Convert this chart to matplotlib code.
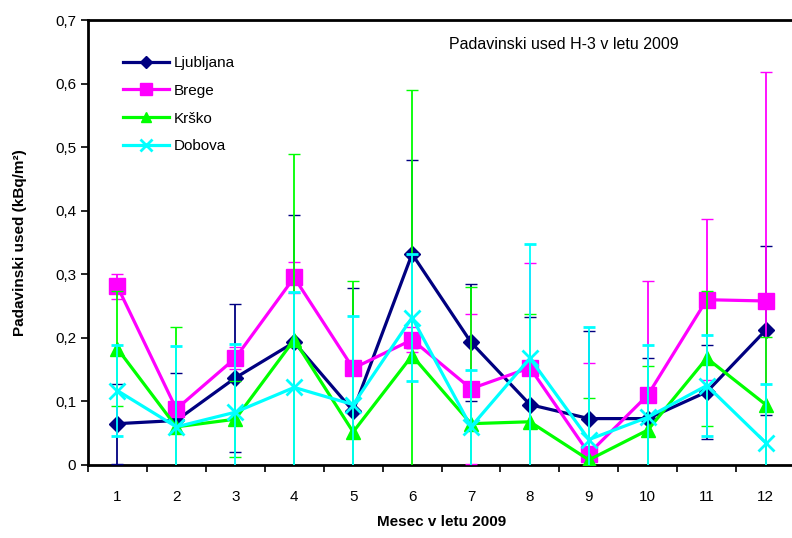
import matplotlib
matplotlib.use("Agg")
import matplotlib.pyplot as plt
from matplotlib.ticker import FuncFormatter
from matplotlib.lines import Line2D

plt.rcParams["font.family"] = ["Liberation Sans", "DejaVu Sans"]

# podatki (odčitano s slike)
months = [1, 2, 3, 4, 5, 6, 7, 8, 9, 10, 11, 12]
series_names = ["Ljubljana", "Brege", "Krško", "Dobova"]

ljubljana = [0.065, 0.070, 0.137, 0.193, 0.085, 0.332, 0.193, 0.095, 0.073, 0.073, 0.115, 0.212]
ljubljana_err = [0.063, 0.075, 0.116, 0.200, 0.194, 0.148, 0.092, 0.138, 0.137, 0.095, 0.074, 0.133]

brege = [0.281, 0.088, 0.168, 0.295, 0.152, 0.197, 0.120, 0.153, 0.018, 0.110, 0.260, 0.258]
brege_err = [0.020, 0.010, 0.017, 0.024, 0.010, 0.020, 0.118, 0.165, 0.142, 0.179, 0.127, 0.360]

krsko = [0.183, 0.060, 0.072, 0.197, 0.052, 0.172, 0.065, 0.068, 0.008, 0.055, 0.168, 0.095]
krsko_err = [0.090, 0.157, 0.060, 0.292, 0.237, 0.418, 0.215, 0.169, 0.098, 0.100, 0.106, 0.106]

dobova = [0.117, 0.060, 0.083, 0.122, 0.095, 0.232, 0.060, 0.168, 0.040, 0.075, 0.125, 0.035]
dobova_err = [0.072, 0.127, 0.108, 0.150, 0.140, 0.100, 0.090, 0.180, 0.177, 0.114, 0.080, 0.092]

values = [ljubljana, brege, krsko, dobova]
errors = [ljubljana_err, brege_err, krsko_err, dobova_err]
colors = ["#000080", "#FF00FF", "#00FF00", "#00FFFF"]
markers = ["D", "s", "^", "x"]
msizes = [8, 11, 10, 11]

fig = plt.figure(figsize=(7.92, 5.38), dpi=100)
ax = fig.add_axes([0.111, 0.1357, 0.893, 0.8271])

handles = []
for i, name in enumerate(series_names):
    mew = 2 if markers[i] == "x" else 1
    ax.errorbar(months, values[i], yerr=errors[i], color=colors[i],
                marker=markers[i], markersize=msizes[i], markeredgewidth=mew,
                linewidth=2.3, elinewidth=1.3, capsize=4.5, capthick=1.3,
                zorder=3 + i)
    # legenda brez napak
    handles.append(Line2D([], [], color=colors[i], marker=markers[i],
                          markersize=msizes[i] * 0.75, markeredgewidth=mew,
                          linewidth=2.3, label=name))

ax.set_xlim(0.5, 12.5)
ax.set_ylim(0, 0.7)
ax.set_xticks(months)
ax.set_xticks([m + 0.5 for m in range(0, 13)], minor=True)
ax.tick_params(axis="x", which="major", length=0, pad=18, labelsize=11)
ax.tick_params(axis="x", which="minor", length=5, width=1.2)
ax.set_yticks([0, 0.1, 0.2, 0.3, 0.4, 0.5, 0.6, 0.7])
ax.yaxis.set_major_formatter(FuncFormatter(lambda v, p: "0" if v == 0 else f"{v:.1f}".replace(".", ",")))
ax.tick_params(axis="y", length=5, width=1.2, labelsize=11)

for s in ax.spines.values():
    s.set_linewidth(2)

ax.set_xlabel("Mesec v letu 2009", fontsize=11, fontweight="bold", labelpad=8)
ax.set_ylabel("Padavinski used (kBq/m²)", fontsize=11, fontweight="bold", labelpad=20)

ax.text(0.51, 0.945, "Padavinski used H-3 v letu 2009", transform=ax.transAxes,
        fontsize=11.5, ha="left", va="center")

ax.legend(handles=handles, loc="upper left", bbox_to_anchor=(0.03, 0.95), frameon=False,
          fontsize=11, handlelength=3, labelspacing=0.9, handletextpad=0.3)

fig.savefig("out.png", dpi=100)
